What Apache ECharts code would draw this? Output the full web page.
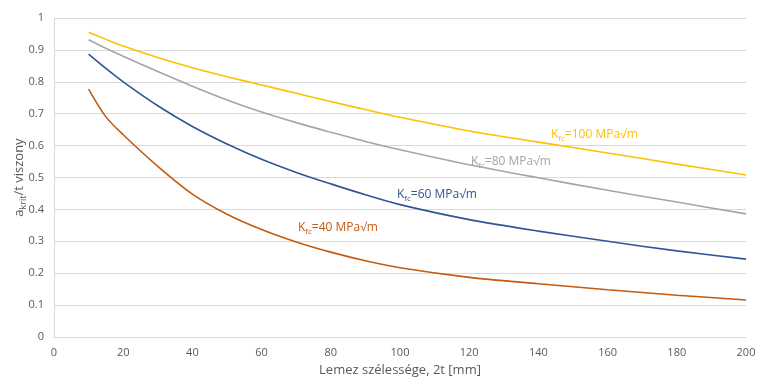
<!DOCTYPE html>
<html>
<head>
<meta charset="utf-8">
<script src="https://cdn.jsdelivr.net/npm/echarts@6/dist/echarts.min.js"></script>
<style>
  html, body { margin: 0; padding: 0; background: #fff; }
  #chart { width: 758px; height: 381px; }
</style>
</head>
<body>
<div id="chart"></div>
<script>
// plate width 2t [mm]
const widths = [10, 15, 20, 30, 40, 50, 60, 70, 80, 90, 100, 120, 140, 160, 180, 200];

// a_krit/t ratio for each K_fc
const kfc100 = [0.955, 0.933, 0.912, 0.876, 0.844, 0.816, 0.790, 0.764, 0.738, 0.713, 0.689, 0.646, 0.611, 0.577, 0.542, 0.508];
const kfc80 = [0.932, 0.905, 0.880, 0.832, 0.786, 0.743, 0.705, 0.672, 0.642, 0.613, 0.587, 0.540, 0.499, 0.460, 0.423, 0.386];
const kfc60 = [0.887, 0.842, 0.800, 0.725, 0.660, 0.605, 0.557, 0.516, 0.480, 0.446, 0.415, 0.368, 0.332, 0.300, 0.270, 0.244];
const kfc40 = [0.777, 0.690, 0.634, 0.535, 0.448, 0.385, 0.337, 0.298, 0.266, 0.239, 0.217, 0.187, 0.167, 0.148, 0.131, 0.116];

const seriesNames = ['100', '80', '60', '40'];
const colors = ['#FFC000', '#A5A5A5', '#2F5597', '#C55A11'];

const FONT = '"Open Sans", "Noto Sans", sans-serif';

function pairs(ys) {
    return widths.map((w, i) => [w, ys[i]]);
}

// label text with subscript "fc"
function kLabel(name, color, left, top) {
    return {
        type: 'text',
        left: left,
        top: top,
        style: {
            text: '{k|K}{s|fc}{k|=' + name + ' MPa√m}',
            rich: {
                k: { fontSize: 12, fontFamily: FONT, fill: color, color: color },
                s: { fontSize: 8, fontFamily: FONT, fill: color, color: color, padding: [8, 0, 0, 0] }
            }
        }
    };
}

const chart = echarts.init(document.getElementById('chart'));
chart.setOption({
    animation: false,
    grid: {
        left: 54,
        right: 12,
        top: 18,
        bottom: 44,
        outerBoundsMode: 'none'
    },
    xAxis: {
        type: 'value',
        min: 0,
        max: 200,
        interval: 20,
        name: 'Lemez szélessége, 2t [mm]',
        nameLocation: 'middle',
        nameGap: 27,
        nameTextStyle: { color: '#595959', fontSize: 13, fontFamily: FONT },
        axisLine: { show: true, lineStyle: { color: '#D9D9D9' } },
        axisTick: { show: false },
        axisLabel: { color: '#595959', fontSize: 11, fontFamily: FONT, margin: 10 },
        splitLine: { show: false }
    },
    yAxis: {
        type: 'value',
        min: 0,
        max: 1,
        interval: 0.1,
        name: '{a|a}{s|krit}{a|/t viszony}',
        nameLocation: 'middle',
        nameGap: 26,
        nameMoveOverlap: false,
        nameRotate: 90,
        nameTextStyle: {
            rich: {
                a: { color: '#595959', fontSize: 13, fontFamily: FONT },
                s: { color: '#595959', fontSize: 9, fontFamily: FONT, padding: [9, 0, 0, 0] }
            }
        },
        axisLine: { show: true, lineStyle: { color: '#D9D9D9' } },
        axisTick: { show: false },
        axisLabel: { color: '#595959', fontSize: 11, fontFamily: FONT, margin: 10 },
        splitLine: { show: true, lineStyle: { color: '#D9D9D9', width: 1 } }
    },
    series: [kfc100, kfc80, kfc60, kfc40].map((ys, i) => ({
        name: seriesNames[i],
        type: 'line',
        data: pairs(ys),
        smooth: 0.3,
        showSymbol: false,
        lineStyle: { color: colors[i], width: 1.6 }
    })),
    graphic: [
        kLabel('100', colors[0], 551, 129),
        kLabel('80', colors[1], 471, 156),
        kLabel('60', colors[2], 397, 189),
        kLabel('40', colors[3], 298, 222)
    ]
});
</script>
</body>
</html>
